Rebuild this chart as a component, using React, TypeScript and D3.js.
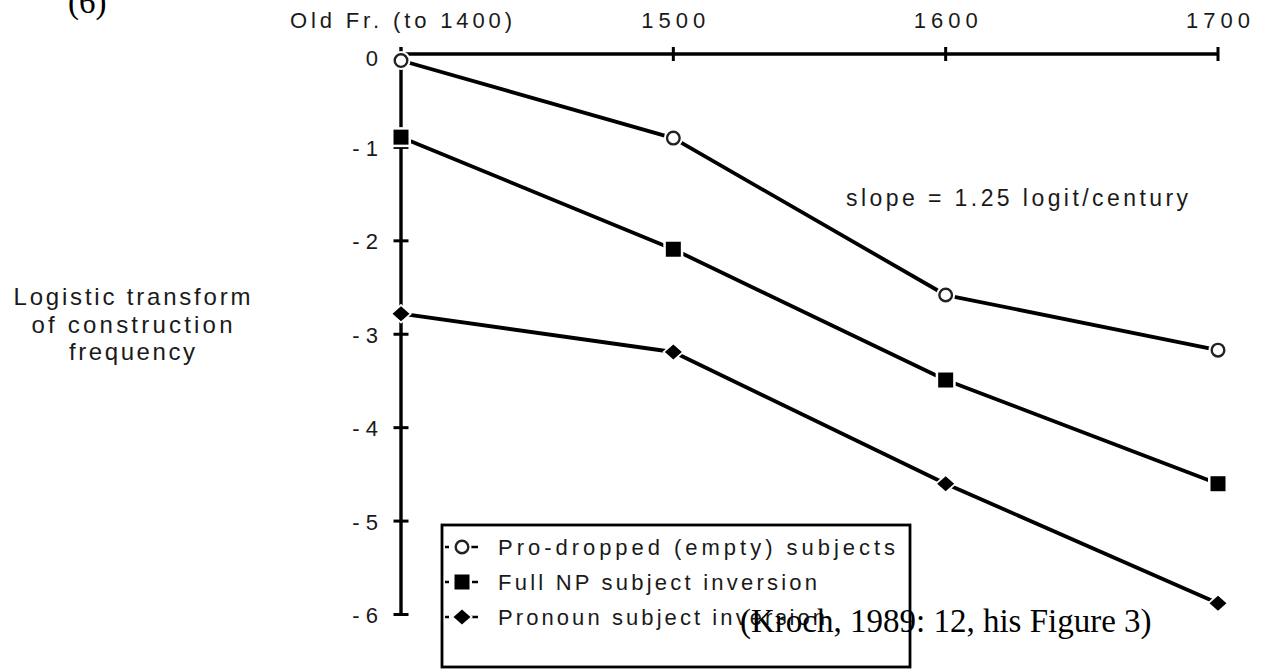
import React from "react";
import * as d3 from "d3";

// periods on the top axis and the logit values
const periods = ["Old Fr. (to 1400)", "1500", "1600", "1700"];
const proDropped = [-0.07, -0.9, -2.58, -3.17];
const fullNP = [-0.89, -2.09, -3.49, -4.6];
const pronoun = [-2.78, -3.19, -4.6, -5.88];

const yTicks = [0, -1, -2, -3, -4, -5, -6];
const yTickLabels = ["0", "- 1", "- 2", "- 3", "- 4", "- 5", "- 6"];

const seriesNames = [
  "Pro-dropped (empty) subjects",
  "Full NP subject inversion",
  "Pronoun subject inversion",
];
const yTitle = ["Logistic transform", "of construction", "frequency"];
const slopeNote = "slope = 1.25 logit/century";
const figNumber = "(6)";
const citation = "(Kroch, 1989: 12, his Figure 3)";

const W = 1263;
const H = 669;
const SANS = "'Liberation Sans', Arial, Helvetica, sans-serif";
const SERIF = "'Liberation Serif', 'Times New Roman', serif";

const x = d3.scalePoint<string>().domain(periods).range([401, 1218]);
const y = d3.scaleLinear().domain([0, -6]).range([54, 614.5]);

const series = [
  { name: seriesNames[0], values: proDropped, kind: "open" },
  { name: seriesNames[1], values: fullNP, kind: "square" },
  { name: seriesNames[2], values: pronoun, kind: "diamond" },
];

const line = d3
  .line<number>()
  .x((_, i) => x(periods[i]) as number)
  .y((v) => y(v));

// marker drawn centred at (cx, cy), with a white halo under it
const Marker = ({ kind, cx, cy }: { kind: string; cx: number; cy: number }) => {
  if (kind === "open") {
    return (
      <g transform={`translate(${cx},${cy})`}>
        <circle r={9.5} fill="white" />
        <circle r={6.3} fill="white" stroke="#222" strokeWidth={2.4} />
      </g>
    );
  }
  if (kind === "square") {
    const s = d3.symbol(d3.symbolSquare, 15 * 15)();
    const halo = d3.symbol(d3.symbolSquare, 20 * 20)();
    return (
      <g transform={`translate(${cx},${cy})`}>
        <path d={halo as string} fill="white" />
        <path d={s as string} fill="#000" />
      </g>
    );
  }
  const dw = 8.5;
  const dh = 7.5;
  return (
    <g transform={`translate(${cx},${cy})`}>
      <path d={`M0,${-dh - 2.5}L${dw + 2.5},0L0,${dh + 2.5}L${-dw - 2.5},0Z`} fill="white" />
      <path d={`M0,${-dh}L${dw},0L0,${dh}L${-dw},0Z`} fill="#000" />
    </g>
  );
};

const App = () => {
  const x0 = x(periods[0]) as number;
  const xEnd = x(periods[periods.length - 1]) as number;
  const yTop = y(0);
  const yBottom = y(-6);

  // legend layout
  const lgX = 442;
  const lgY = 525;
  const lgW = 468;
  const lgH = 142;
  const rowY = (i: number) => lgY + 22 + i * 35;

  return (
    <svg
      width={W}
      height={H}
      style={{ position: "absolute", left: 0, top: 0, background: "white" }}
    >
      <rect width={W} height={H} fill="white" />

      {/* figure number, partly cut off at the top */}
      <text x={68} y={13} fontFamily={SERIF} fontSize={33} fill="#000">
        {figNumber}
      </text>

      {/* top axis */}
      <line x1={x0} x2={xEnd} y1={yTop} y2={yTop} stroke="#000" strokeWidth={3.4} />
      {periods.slice(1).map((p) => (
        <line
          key={p}
          x1={x(p)}
          x2={x(p)}
          y1={yTop - 7}
          y2={yTop + 7}
          stroke="#000"
          strokeWidth={3}
        />
      ))}
      {periods.map((p, i) => (
        <text
          key={p}
          x={x(p)}
          y={28}
          textAnchor="middle"
          fontFamily={SANS}
          fontSize={22}
          fill="#1a1a1a"
          textLength={i === 0 ? 222 : 64}
          lengthAdjust="spacing"
        >
          {p}
        </text>
      ))}

      {/* left axis */}
      <line x1={x0} x2={x0} y1={yTop - 7} y2={yBottom} stroke="#000" strokeWidth={3.4} />
      {yTicks.map((t, i) => (
        <g key={t}>
          {i > 0 && (
            <line
              x1={x0 - 7.5}
              x2={x0 + 7.5}
              y1={y(t)}
              y2={y(t)}
              stroke="#000"
              strokeWidth={3}
            />
          )}
          <text
            x={378}
            y={y(t) + (i === 0 ? 12 : 8.5)}
            textAnchor="end"
            fontFamily={SANS}
            fontSize={22}
            fill="#1a1a1a"
          >
            {yTickLabels[i]}
          </text>
        </g>
      ))}

      {/* y title */}
      {yTitle.map((ln, i) => (
        <text
          key={ln}
          x={132}
          y={305 + i * 27.5}
          textAnchor="middle"
          fontFamily={SANS}
          fontSize={24}
          fill="#1a1a1a"
          textLength={[237, 201, 126][i]}
          lengthAdjust="spacing"
        >
          {ln}
        </text>
      ))}

      {/* series lines */}
      {series.map((s) => (
        <path
          key={s.name}
          d={line(s.values) as string}
          fill="none"
          stroke="#000"
          strokeWidth={3.8}
          strokeLinejoin="round"
        />
      ))}
      {series.map((s) =>
        s.values.map((v, i) => (
          <Marker key={s.name + i} kind={s.kind} cx={x(periods[i]) as number} cy={y(v)} />
        ))
      )}

      <text
        x={846}
        y={206}
        fontFamily={SANS}
        fontSize={23}
        fill="#1a1a1a"
        textLength={342}
        lengthAdjust="spacing"
      >
        {slopeNote}
      </text>

      {/* legend */}
      <rect
        x={lgX}
        y={lgY}
        width={lgW}
        height={lgH}
        fill="white"
        stroke="#000"
        strokeWidth={2.8}
      />
      {series.map((s, i) => (
        <g key={s.name}>
          <line x1={445} x2={449} y1={rowY(i)} y2={rowY(i)} stroke="#000" strokeWidth={2.5} />
          <line x1={470} x2={478} y1={rowY(i)} y2={rowY(i)} stroke="#000" strokeWidth={2.5} />
          <Marker kind={s.kind} cx={462} cy={rowY(i)} />
          <text
            x={498}
            y={rowY(i) + 7.5}
            fontFamily={SANS}
            fontSize={22}
            fill="#1a1a1a"
            textLength={[397, 319, 327][i]}
            lengthAdjust="spacing"
          >
            {s.name}
          </text>
        </g>
      ))}

      <text x={740} y={632} fontFamily={SERIF} fontSize={33} fill="#000">
        {citation}
      </text>
    </svg>
  );
};

export default App;
